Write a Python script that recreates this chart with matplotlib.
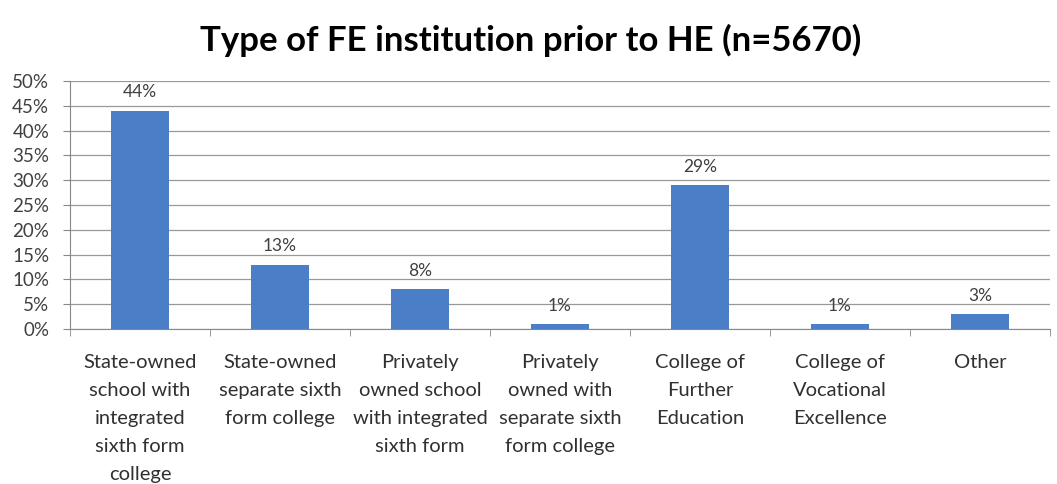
import numpy as np
import matplotlib.pyplot as plt
from matplotlib.ticker import FuncFormatter, FixedLocator

# categories and shares (%)
categories = [
    "State-owned\nschool with\nintegrated\nsixth form\ncollege",
    "State-owned\nseparate sixth\nform college",
    "Privately\nowned school\nwith integrated\nsixth form",
    "Privately\nowned with\nseparate sixth\nform college",
    "College of\nFurther\nEducation",
    "College of\nVocational\nExcellence",
    "Other",
]
shares = [44, 13, 8, 1, 29, 1, 3]
yticks = np.arange(0, 51, 5)

plt.rcParams['font.family'] = ['Lato', 'DejaVu Sans']

fig = plt.figure(figsize=(10.57, 4.84), dpi=100)
ax = fig.add_axes([70 / 1057, 1 - 329 / 484, 980 / 1057, 248 / 484])

x = np.arange(len(categories))
bars = ax.bar(x, shares, width=0.41, color='#4A7EC7', zorder=3)

for xi, v in zip(x, shares):
    ax.text(xi, v + 2.1, f"{v:.0f}%", ha='center', va='bottom',
            fontsize=12.5, color='#404040')

ax.set_xlim(-0.5, len(categories) - 0.5)
ax.set_ylim(0, 50)
ax.set_yticks(yticks)
ax.yaxis.set_major_formatter(FuncFormatter(lambda v, p: f"{v:.0f}%"))
ax.tick_params(axis='y', labelsize=13.5, colors='#404040', length=5, pad=10)
ax.tick_params(axis='y', color='#888888')

# category labels centred, ticks on category boundaries
ax.set_xticks(x)
ax.set_xticklabels(categories, fontsize=14.5, color='#303030', linespacing=1.78)
ax.tick_params(axis='x', length=0, pad=18)
ax.xaxis.set_minor_locator(FixedLocator(np.arange(-0.5, len(categories), 1.0)))
ax.tick_params(axis='x', which='minor', length=5, color='#888888')

ax.grid(axis='y', color='#999999', linewidth=0.9, zorder=0)
for side in ['top', 'right']:
    ax.spines[side].set_visible(False)
ax.spines['left'].set_color('#888888')
ax.spines['bottom'].set_color('#888888')

fig.text(0.502, 1 - 40 / 484, "Type of FE institution prior to HE (n=5670)",
         fontsize=25, fontweight='bold', ha='center', va='center')

fig.savefig('out.png', dpi=100, facecolor='white')
